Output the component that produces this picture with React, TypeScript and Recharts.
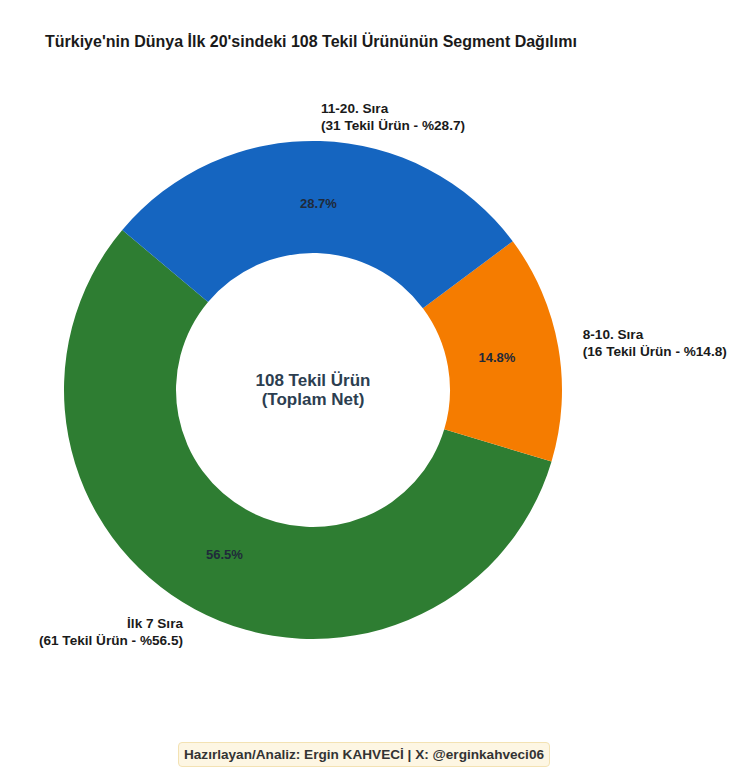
import { PieChart, Pie, Cell } from 'recharts';

const segments = ['İlk 7 Sıra', '8-10. Sıra', '11-20. Sıra'];
const productCounts = [61, 16, 31];
const segmentColors = ['#2E7D32', '#F57C00', '#1565C0'];

const total = productCounts.reduce((a, b) => a + b, 0);
const data = segments.map((name, i) => ({ name, value: productCounts[i] }));

const RADIAN = Math.PI / 180;
const FONT = '"Liberation Sans", Arial, sans-serif';

const renderLabel = (props: any) => {
  const { cx, cy, midAngle, outerRadius, percent, name, value } = props;
  const cos = Math.cos(-midAngle * RADIAN);
  const sin = Math.sin(-midAngle * RADIAN);
  const pr = outerRadius * 0.75;
  const lr = outerRadius * 1.1;
  const px = cx + pr * cos;
  const py = cy + pr * sin;
  const lx = cx + lr * cos;
  const ly = cy + lr * sin;
  const pct = (percent * 100).toFixed(1);
  return (
    <g>
      <text
        x={px}
        y={py}
        textAnchor="middle"
        dominantBaseline="central"
        fill="#1f2a3a"
        fontSize={13}
        fontWeight="bold"
        fontFamily={FONT}
      >
        {pct}%
      </text>
      <text
        x={lx}
        y={ly}
        textAnchor={cos >= 0 ? 'start' : 'end'}
        fill="#1a1a1a"
        fontSize={13.6}
        fontWeight="bold"
        fontFamily={FONT}
      >
        <tspan x={lx} dy={-3}>{name}</tspan>
        <tspan x={lx} dy={17}>({value} Tekil Ürün - %{pct})</tspan>
      </text>
    </g>
  );
};

export default function App() {
  return (
    <div
      style={{
        position: 'absolute',
        left: 0,
        top: 0,
        width: 745,
        height: 779,
        background: '#fff',
        fontFamily: FONT,
      }}
    >
      <div
        style={{
          position: 'absolute',
          left: 45,
          top: 33,
          fontSize: 16,
          fontWeight: 'bold',
          color: '#1a1a1a',
          whiteSpace: 'nowrap',
        }}
      >
        Türkiye'nin Dünya İlk 20'sindeki 108 Tekil Ürününün Segment Dağılımı
      </div>
      <PieChart width={745} height={779} style={{ position: 'absolute', left: 0, top: 0 }}>
        <Pie
          data={data}
          dataKey="value"
          nameKey="name"
          cx={308}
          cy={385}
          innerRadius={137}
          outerRadius={249}
          startAngle={140}
          endAngle={500}
          stroke="none"
          label={renderLabel}
          labelLine={false}
          isAnimationActive={false}
        >
          {data.map((d, i) => (
            <Cell key={d.name} fill={segmentColors[i]} />
          ))}
        </Pie>
        <text
          x={313}
          y={386}
          textAnchor="middle"
          fill="#2c3e50"
          fontSize={17}
          fontWeight="bold"
          fontFamily={FONT}
        >
          <tspan x={313} dy={0}>{total} Tekil Ürün</tspan>
          <tspan x={313} dy={19}>(Toplam Net)</tspan>
        </text>
      </PieChart>
      <div
        style={{
          position: 'absolute',
          left: 178,
          top: 742,
          width: 372,
          height: 25,
          boxSizing: 'border-box',
          background: '#fdf6e3',
          border: '1px solid #f3e2b3',
          borderRadius: 4,
          fontSize: 13.6,
          fontWeight: 'bold',
          color: '#333',
          display: 'flex',
          alignItems: 'center',
          justifyContent: 'center',
          whiteSpace: 'nowrap',
        }}
      >
        Hazırlayan/Analiz: Ergin KAHVECİ | X: @erginkahveci06
      </div>
    </div>
  );
}
